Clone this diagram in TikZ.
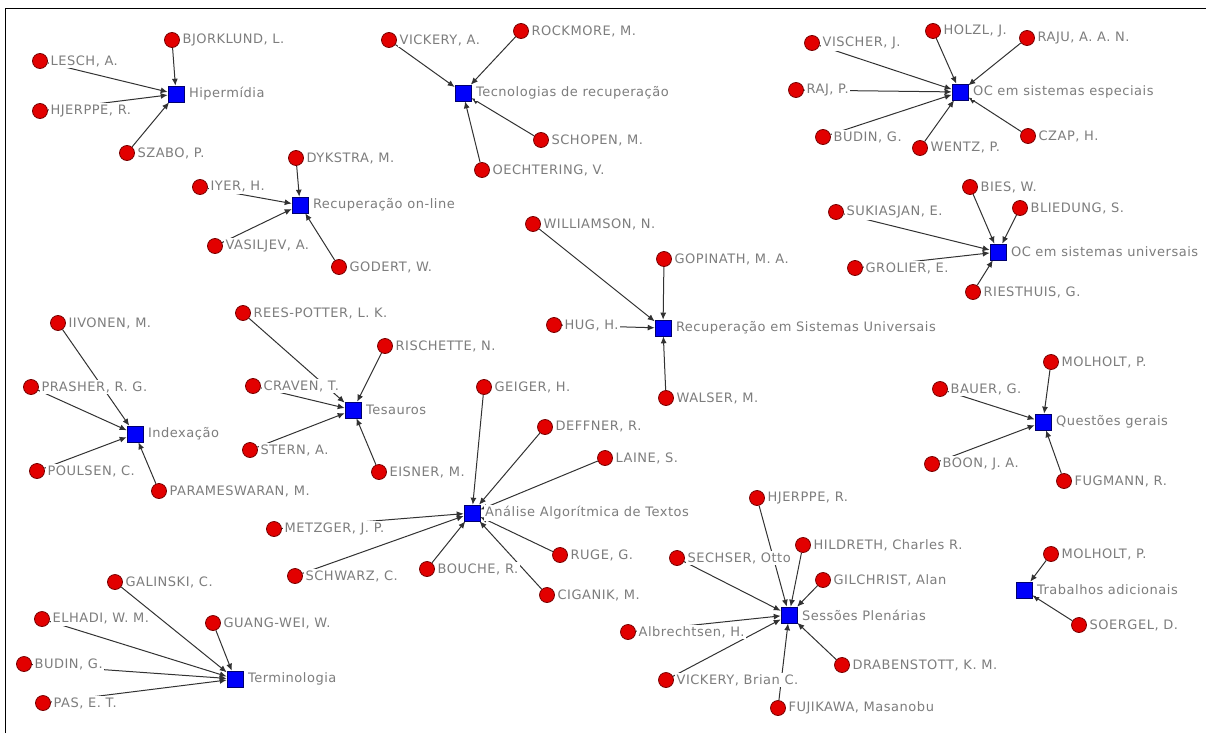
\documentclass[tikz,border=0pt]{standalone}
\usepackage{fontspec}
\setmainfont{DejaVu Sans}[LetterSpace=4]
\usepackage{tikz}
\usetikzlibrary{arrows.meta}
\definecolor{autorred}{RGB}{226,0,0}
\definecolor{autorborder}{RGB}{120,0,0}
\definecolor{temablue}{RGB}{0,0,250}
\definecolor{temaborder}{RGB}{0,0,110}
\definecolor{txtgray}{RGB}{125,125,125}
\definecolor{edgegray}{RGB}{50,50,50}
\pgfdeclarelayer{background}
\pgfsetlayers{background,main}

\begin{document}
\begin{tikzpicture}[x=1pt,y=1pt,
		every node/.style={font=\fontsize{13}{15}\selectfont},
		autor/.style={circle,draw=autorborder,fill=autorred,line width=0.8pt,minimum size=15pt,inner sep=0pt},
		tema/.style={rectangle,draw=temaborder,fill=temablue,line width=0.6pt,minimum size=16pt,inner sep=0pt},
		nome/.style={text=txtgray,fill=white,inner sep=1.5pt},
		liga/.style={draw=edgegray,line width=1pt,-{Latex[length=7pt,width=6pt]}},
		label distance=1pt]
			\useasboundingbox (0,0) rectangle (1206,-733);
			\draw [black,line width=1pt] (5,-733) -- (5,-9) -- (1206,-9);
			% Hipermidia
			\node [tema,label={[nome,label distance=3pt]right:{Hipermídia}}] (hiper) at (176,-94) {};
			\node [autor,label={[nome]right:{BJORKLUND, L.}}] (bjorklund) at (172,-40) {};
			\node [autor,label={[nome]right:{LESCH, A.}}] (lesch) at (40,-61) {};
			\node [autor,label={[nome]right:{HJERPPE, R.}}] (hjerppeA) at (40,-111) {};
			\node [autor,label={[nome]right:{SZABO, P.}}] (szabo) at (127,-153) {};
			% Tecnologias de recuperacao
			\node [tema,label={[nome,label distance=3pt]right:{Tecnologias de recuperação}}] (tecrec) at (463,-93) {};
			\node [autor,label={[nome]right:{VICKERY, A.}}] (vickeryA) at (389,-40) {};
			\node [autor,label={[nome]right:{ROCKMORE, M.}}] (rockmore) at (521,-31) {};
			\node [autor,label={[nome]right:{SCHOPEN, M.}}] (schopen) at (541,-140) {};
			\node [autor,label={[nome]right:{OECHTERING, V.}}] (oechtering) at (482,-170) {};
			% OC em sistemas especiais
			\node [tema,label={[nome,label distance=3pt]right:{OC em sistemas especiais}}] (ocesp) at (960,-92) {};
			\node [autor,label={[nome]right:{VISCHER, J.}}] (vischer) at (812,-43) {};
			\node [autor,label={[nome]right:{HOLZL, J.}}] (holzl) at (933,-31) {};
			\node [autor,label={[nome]right:{RAJU, A. A. N.}}] (raju) at (1027,-38) {};
			\node [autor,label={[nome]right:{RAJ, P.}}] (raj) at (796,-90) {};
			\node [autor,label={[nome]right:{BUDIN, G.}}] (budinA) at (823,-137) {};
			\node [autor,label={[nome]right:{WENTZ, P.}}] (wentz) at (920,-148) {};
			\node [autor,label={[nome]right:{CZAP, H.}}] (czap) at (1028,-136) {};
			% OC em sistemas universais
			\node [tema,label={[nome,label distance=3pt]right:{OC em sistemas universais}}] (ocuni) at (998,-252) {};
			\node [autor,label={[nome]right:{BIES, W.}}] (bies) at (970,-187) {};
			\node [autor,label={[nome]right:{BLIEDUNG, S.}}] (bliedung) at (1020,-208) {};
			\node [autor,label={[nome]right:{SUKIASJAN, E.}}] (sukiasjan) at (836,-212) {};
			\node [autor,label={[nome]right:{GROLIER, E.}}] (grolier) at (855,-268) {};
			\node [autor,label={[nome]right:{RIESTHUIS, G.}}] (riesthuis) at (973,-292) {};
			% Recuperacao on-line
			\node [tema,label={[nome,label distance=3pt]right:{Recuperação on-line}}] (reconl) at (300,-205) {};
			\node [autor,label={[nome]right:{DYKSTRA, M.}}] (dykstra) at (296,-158) {};
			\node [autor,label={[nome]right:{IYER, H.}}] (iyer) at (200,-187) {};
			\node [autor,label={[nome]right:{VASILJEV, A.}}] (vasiljev) at (215,-246) {};
			\node [autor,label={[nome]right:{GODERT, W.}}] (godert) at (339,-267) {};
			% Recuperacao em Sistemas Universais
			\node [tema,label={[nome,label distance=3pt]right:{Recuperação em Sistemas Universais}}] (recsu) at (663,-328) {};
			\node [autor,label={[nome]right:{WILLIAMSON, N.}}] (williamson) at (533,-224) {};
			\node [autor,label={[nome]right:{GOPINATH, M. A.}}] (gopinath) at (664,-259) {};
			\node [autor,label={[nome]right:{HUG, H.}}] (hug) at (554,-325) {};
			\node [autor,label={[nome]right:{WALSER, M.}}] (walser) at (666,-398) {};
			% Indexacao
			\node [tema,label={[nome,label distance=3pt]right:{Indexação}}] (index) at (135,-434) {};
			\node [autor,label={[nome]right:{IIVONEN, M.}}] (iivonen) at (58,-323) {};
			\node [autor,label={[nome]right:{PRASHER, R. G.}}] (prasher) at (31,-387) {};
			\node [autor,label={[nome]right:{POULSEN, C.}}] (poulsen) at (37,-471) {};
			\node [autor,label={[nome]right:{PARAMESWARAN, M.}}] (parameswaran) at (159,-491) {};
			% Tesauros
			\node [tema,label={[nome,label distance=3pt]right:{Tesauros}}] (tesauros) at (353,-410) {};
			\node [autor,label={[nome]right:{REES-POTTER, L. K.}}] (reespotter) at (243,-313) {};
			\node [autor,label={[nome]right:{RISCHETTE, N.}}] (rischette) at (385,-346) {};
			\node [autor,label={[nome]right:{CRAVEN, T.}}] (craven) at (253,-386) {};
			\node [autor,label={[nome]right:{STERN, A.}}] (stern) at (250,-450) {};
			\node [autor,label={[nome]right:{EISNER, M.}}] (eisner) at (379,-472) {};
			% Analise Algoritmica de Textos
			\node [tema,label={[nome,label distance=3pt]right:{Análise Algorítmica de Textos}}] (analise) at (472,-513) {};
			\node [autor,label={[nome]right:{GEIGER, H.}}] (geiger) at (484,-387) {};
			\node [autor,label={[nome]right:{DEFFNER, R.}}] (deffner) at (545,-427) {};
			\node [autor,label={[nome]right:{LAINE, S.}}] (laine) at (605,-458) {};
			\node [autor,label={[nome]right:{METZGER, J. P.}}] (metzger) at (274,-529) {};
			\node [autor,label={[nome]right:{SCHWARZ, C.}}] (schwarz) at (295,-576) {};
			\node [autor,label={[nome]right:{BOUCHE, R.}}] (bouche) at (427,-569) {};
			\node [autor,label={[nome]right:{RUGE, G.}}] (ruge) at (560,-555) {};
			\node [autor,label={[nome]right:{CIGANIK, M.}}] (ciganik) at (547,-595) {};
			% Questoes gerais
			\node [tema,label={[nome,label distance=3pt]right:{Questões gerais}}] (questoes) at (1043,-422) {};
			\node [autor,label={[nome]right:{MOLHOLT, P.}}] (molholtA) at (1051,-362) {};
			\node [autor,label={[nome]right:{BAUER, G.}}] (bauer) at (940,-389) {};
			\node [autor,label={[nome]right:{BOON, J. A.}}] (boon) at (932,-464) {};
			\node [autor,label={[nome]right:{FUGMANN, R.}}] (fugmann) at (1064,-481) {};
			% Terminologia
			\node [tema,label={[nome,label distance=3pt]right:{Terminologia}}] (termino) at (235,-679) {};
			\node [autor,label={[nome]right:{GALINSKI, C.}}] (galinski) at (115,-582) {};
			\node [autor,label={[nome]right:{ELHADI, W. M.}}] (elhadi) at (42,-619) {};
			\node [autor,label={[nome]right:{GUANG-WEI, W.}}] (guangwei) at (213,-623) {};
			\node [autor,label={[nome]right:{BUDIN, G.}}] (budinB) at (24,-664) {};
			\node [autor,label={[nome]right:{PAS, E. T.}}] (pas) at (43,-703) {};
			% Sessoes Plenarias
			\node [tema,label={[nome,label distance=3pt]right:{Sessões Plenárias}}] (sessoes) at (789,-615) {};
			\node [autor,label={[nome]right:{HJERPPE, R.}}] (hjerppeB) at (757,-498) {};
			\node [autor,label={[nome]right:{SECHSER, Otto}}] (sechser) at (677,-558) {};
			\node [autor,label={[nome]right:{HILDRETH, Charles R.}}] (hildreth) at (803,-545) {};
			\node [autor,label={[nome]right:{GILCHRIST, Alan}}] (gilchrist) at (823,-580) {};
			\node [autor,label={[nome]right:{Albrechtsen, H.}}] (albrechtsen) at (628,-632) {};
			\node [autor,label={[nome]right:{VICKERY, Brian C.}}] (vickeryB) at (666,-680) {};
			\node [autor,label={[nome]right:{DRABENSTOTT, K. M.}}] (drabenstott) at (842,-665) {};
			\node [autor,label={[nome]right:{FUJIKAWA, Masanobu}}] (fujikawa) at (778,-708) {};
			% Trabalhos adicionais
			\node [tema,label={[nome,label distance=3pt]right:{Trabalhos adicionais}}] (trabalhos) at (1024,-590) {};
			\node [autor,label={[nome]right:{MOLHOLT, P.}}] (molholtB) at (1051,-554) {};
			\node [autor,label={[nome]right:{SOERGEL, D.}}] (soergel) at (1079,-625) {};
			\begin{pgfonlayer}{background}
			\draw [liga] (bjorklund) -- (hiper);
			\draw [liga] (lesch) -- (hiper);
			\draw [liga] (hjerppeA) -- (hiper);
			\draw [liga] (szabo) -- (hiper);
			\draw [liga] (vickeryA) -- (tecrec);
			\draw [liga] (rockmore) -- (tecrec);
			\draw [liga] (schopen) -- (tecrec);
			\draw [liga] (oechtering) -- (tecrec);
			\draw [liga] (vischer) -- (ocesp);
			\draw [liga] (holzl) -- (ocesp);
			\draw [liga] (raju) -- (ocesp);
			\draw [liga] (raj) -- (ocesp);
			\draw [liga] (budinA) -- (ocesp);
			\draw [liga] (wentz) -- (ocesp);
			\draw [liga] (czap) -- (ocesp);
			\draw [liga] (bies) -- (ocuni);
			\draw [liga] (bliedung) -- (ocuni);
			\draw [liga] (sukiasjan) -- (ocuni);
			\draw [liga] (grolier) -- (ocuni);
			\draw [liga] (riesthuis) -- (ocuni);
			\draw [liga] (dykstra) -- (reconl);
			\draw [liga] (iyer) -- (reconl);
			\draw [liga] (vasiljev) -- (reconl);
			\draw [liga] (godert) -- (reconl);
			\draw [liga] (williamson) -- (recsu);
			\draw [liga] (gopinath) -- (recsu);
			\draw [liga] (hug) -- (recsu);
			\draw [liga] (walser) -- (recsu);
			\draw [liga] (iivonen) -- (index);
			\draw [liga] (prasher) -- (index);
			\draw [liga] (poulsen) -- (index);
			\draw [liga] (parameswaran) -- (index);
			\draw [liga] (reespotter) -- (tesauros);
			\draw [liga] (rischette) -- (tesauros);
			\draw [liga] (craven) -- (tesauros);
			\draw [liga] (stern) -- (tesauros);
			\draw [liga] (eisner) -- (tesauros);
			\draw [liga] (geiger) -- (analise);
			\draw [liga] (deffner) -- (analise);
			\draw [liga] (laine) -- (analise);
			\draw [liga] (metzger) -- (analise);
			\draw [liga] (schwarz) -- (analise);
			\draw [liga] (bouche) -- (analise);
			\draw [liga] (ruge) -- (analise);
			\draw [liga] (ciganik) -- (analise);
			\draw [liga] (molholtA) -- (questoes);
			\draw [liga] (bauer) -- (questoes);
			\draw [liga] (boon) -- (questoes);
			\draw [liga] (fugmann) -- (questoes);
			\draw [liga] (galinski) -- (termino);
			\draw [liga] (elhadi) -- (termino);
			\draw [liga] (guangwei) -- (termino);
			\draw [liga] (budinB) -- (termino);
			\draw [liga] (pas) -- (termino);
			\draw [liga] (hjerppeB) -- (sessoes);
			\draw [liga] (sechser) -- (sessoes);
			\draw [liga] (hildreth) -- (sessoes);
			\draw [liga] (gilchrist) -- (sessoes);
			\draw [liga] (albrechtsen) -- (sessoes);
			\draw [liga] (vickeryB) -- (sessoes);
			\draw [liga] (drabenstott) -- (sessoes);
			\draw [liga] (fujikawa) -- (sessoes);
			\draw [liga] (molholtB) -- (trabalhos);
			\draw [liga] (soergel) -- (trabalhos);
			\end{pgfonlayer}
\end{tikzpicture}
\end{document}
